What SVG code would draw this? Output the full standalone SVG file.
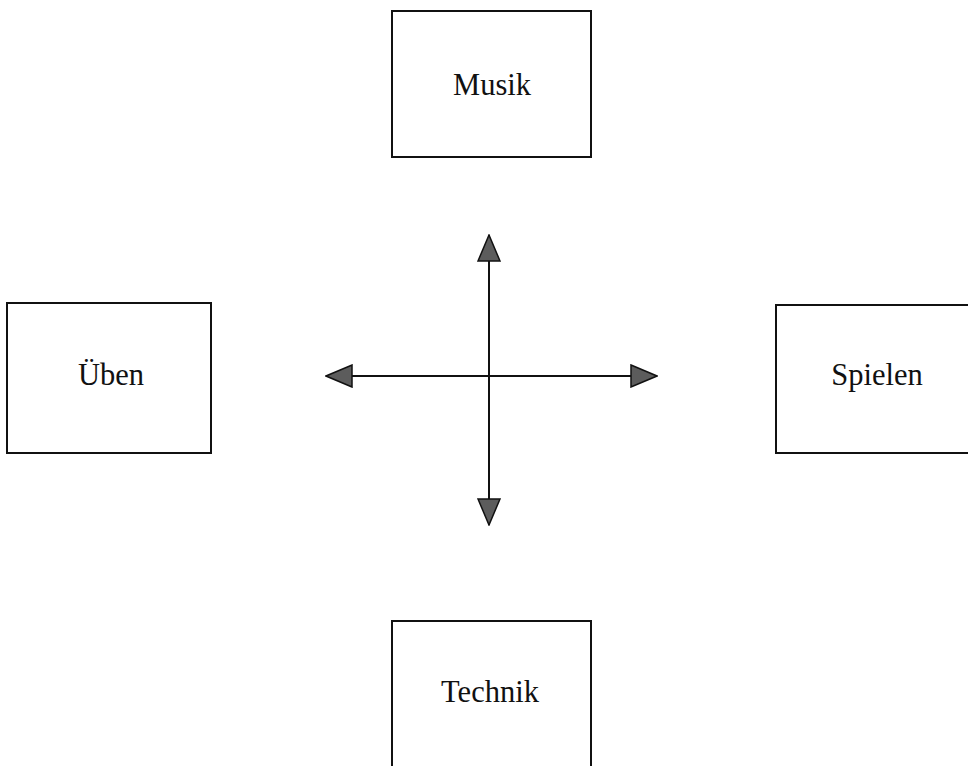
<svg xmlns="http://www.w3.org/2000/svg" width="968" height="766" viewBox="0 0 968 766">
  <style>
    .box { fill: #ffffff; stroke: #111111; stroke-width: 2; }
    .label { font-family: "Liberation Serif", "Times New Roman", serif; font-size: 30.5px; fill: #111111; text-anchor: middle; }
    .axis { stroke: #111111; stroke-width: 2; fill: none; marker-start: url(#head); marker-end: url(#head); }
  </style>
  <defs>
    <marker id="head" viewBox="-1 -1 28 24" refX="26" refY="11" markerWidth="28" markerHeight="24" markerUnits="userSpaceOnUse" orient="auto-start-reverse">
      <path d="M0,0 L26,11 L0,22 Z" fill="#5c5c5c" stroke="#111111" stroke-width="1.5" stroke-linejoin="miter"/>
    </marker>
  </defs>
  <rect width="968" height="766" fill="#ffffff"/>

  <g id="musik">
    <rect class="box" x="392" y="11" width="199" height="146"/>
    <text class="label" x="492" y="95">Musik</text>
  </g>

  <g id="ueben">
    <rect class="box" x="7" y="303" width="204" height="150"/>
    <text class="label" x="111" y="385">Üben</text>
  </g>

  <g id="spielen">
    <rect class="box" x="776" y="305" width="210" height="148"/>
    <text class="label" x="877" y="385">Spielen</text>
  </g>

  <g id="technik">
    <rect class="box" x="392" y="621" width="199" height="160"/>
    <text class="label" x="490" y="702">Technik</text>
  </g>

  <g id="connectors">
    <line class="axis" x1="489" y1="525" x2="489" y2="235"/>
    <line class="axis" x1="326" y1="376" x2="657" y2="376"/>
  </g>
</svg>
